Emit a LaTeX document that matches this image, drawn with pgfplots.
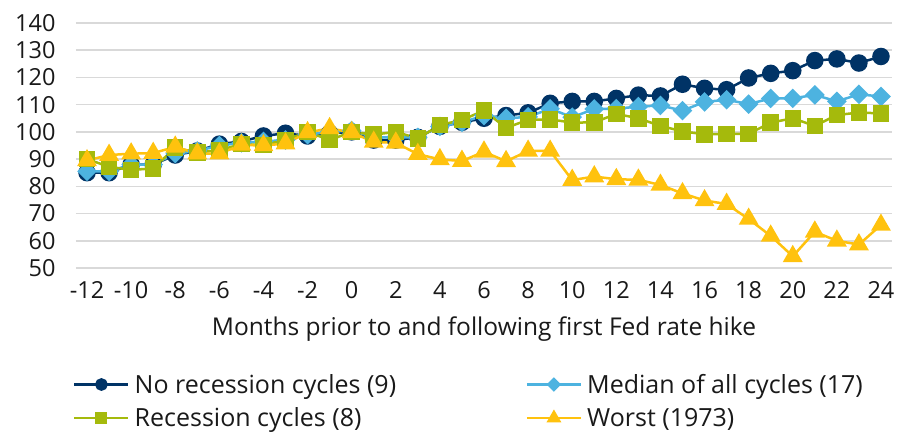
\documentclass[border=0pt]{standalone}
\usepackage{pgfplots}
\pgfplotsset{compat=1.18}
\usepackage{fontspec}
\setmainfont{Open Sans}
\definecolor{cnavy}{HTML}{003366}
\definecolor{cblue}{HTML}{4DB3E0}
\definecolor{cgreen}{HTML}{A5BA0C}
\definecolor{cyellow}{HTML}{FFC20E}
\definecolor{cgrid}{HTML}{D9D9D9}
\begin{document}
\begin{tikzpicture}
\begin{axis}[
  scale only axis, width=816pt, height=245pt,
  xmin=-12.5, xmax=24.5, ymin=50, ymax=140,
  axis line style={draw=none},
  major tick length=0pt,
  xtick={-12,-10,...,24},
  xticklabels={-12,-10,-8,-6,-4,-2,0,2,4,6,8,10,12,14,16,18,20,22,24},
  ytick={50,60,...,140},
  yticklabels={50,60,70,80,90,100,110,120,130,140},
  ymajorgrids, grid style={cgrid, line width=1.5pt},
  tick label style={font=\fontsize{23.5pt}{27pt}\selectfont, text=black!90},
  yticklabel style={xshift=-17pt},
  xticklabel style={yshift=-10pt},
  xlabel={Months prior to and following first Fed rate hike},
  xlabel style={font=\fontsize{24.5pt}{28pt}\selectfont, text=black!90, at={(axis description cs:0.5,0)}, anchor=center, yshift=-61pt},
  legend columns=2,
  legend cell align=left,
  legend style={draw=none, fill=none, at={(0,0)}, anchor=north west, yshift=-106pt, xshift=-3pt,
    inner sep=0pt, row sep=13pt, column sep=5pt, nodes={inner sep=0pt, text=black!90},
    font=\fontsize{25pt}{28pt}\selectfont},
  legend image code/.code={\draw[mark repeat=2,mark phase=2, every mark/.append style={scale=0.68}] plot coordinates {(0pt,0pt) (27pt,0pt) (54pt,0pt)};},
  every axis plot/.append style={line width=2.5pt},
]
\addplot[cnavy, mark=*, mark size=7.5pt, mark options={solid}] coordinates {
(-12,85) (-11,85) (-10,88) (-9,88) (-8,91.5) (-7,93) (-6,95.5) (-5,96.5) (-4,98.5) (-3,99.5) (-2,98.5) (-1,99.5)
(0,100) (1,97) (2,97) (3,98) (4,102) (5,103.5) (6,105) (7,106) (8,107) (9,110.5) (10,111.2) (11,111.2)
(12,112.3) (13,113.5) (14,113.2) (15,117.5) (16,116) (17,115.5) (18,119.8) (19,121.5) (20,122.5) (21,126.2)
(22,126.8) (23,125.3) (24,127.7)};
\addlegendentry{\makebox[386pt][l]{No recession cycles (9)}}
\addplot[cblue, mark=square*, mark size=5.7pt, mark options={solid, rotate=45}] coordinates {
(-12,85.5) (-11,85.5) (-10,88) (-9,88) (-8,92) (-7,93) (-6,95) (-5,96) (-4,96.5) (-3,97) (-2,99) (-1,100)
(0,100.5) (1,98) (2,98) (3,98) (4,102) (5,103.5) (6,106) (7,105) (8,105.5) (9,108.5) (10,105.4) (11,108.4)
(12,108.5) (13,109.3) (14,109.7) (15,107.8) (16,111) (17,111.8) (18,110.2) (19,112.3) (20,112.3) (21,113.6)
(22,111.2) (23,113.8) (24,113)};
\addlegendentry{Median of all cycles (17)}
\addplot[cgreen, mark=square*, mark size=7pt, mark options={solid}] coordinates {
(-12,90) (-11,87.2) (-10,86) (-9,86.6) (-8,94.2) (-7,92.4) (-6,93.3) (-5,95.5) (-4,95.2) (-3,97) (-2,100) (-1,97)
(0,100) (1,99) (2,100) (3,97.6) (4,102.5) (5,104.4) (6,107.8) (7,101.5) (8,104.4) (9,104.6) (10,103.4) (11,103.5)
(12,106.6) (13,105) (14,102.2) (15,100.2) (16,99.1) (17,99.2) (18,99.3) (19,103.4) (20,105) (21,102.2)
(22,106.2) (23,107.1) (24,106.8)};
\addlegendentry{\makebox[386pt][l]{Recession cycles (8)}}
\addplot[cyellow, mark=triangle*, mark size=9pt, mark options={solid}] coordinates {
(-12,89.5) (-11,91.5) (-10,92) (-9,92.2) (-8,94.5) (-7,92) (-6,92) (-5,95.2) (-4,95) (-3,95.7) (-2,99.8) (-1,101.3)
(0,99.8) (1,96.3) (2,96) (3,91.8) (4,89.9) (5,89.3) (6,92.7) (7,89.2) (8,93) (9,93) (10,82.3) (11,83.6)
(12,82.6) (13,82.4) (14,80.5) (15,77.4) (16,74.8) (17,73.5) (18,68) (19,61.8) (20,54.3) (21,63.3)
(22,60) (23,58.6) (24,65.8)};
\addlegendentry{Worst (1973)}
\end{axis}
\path[use as bounding box] (-76pt,-167pt) rectangle (830pt,268pt);
\end{tikzpicture}
\end{document}
